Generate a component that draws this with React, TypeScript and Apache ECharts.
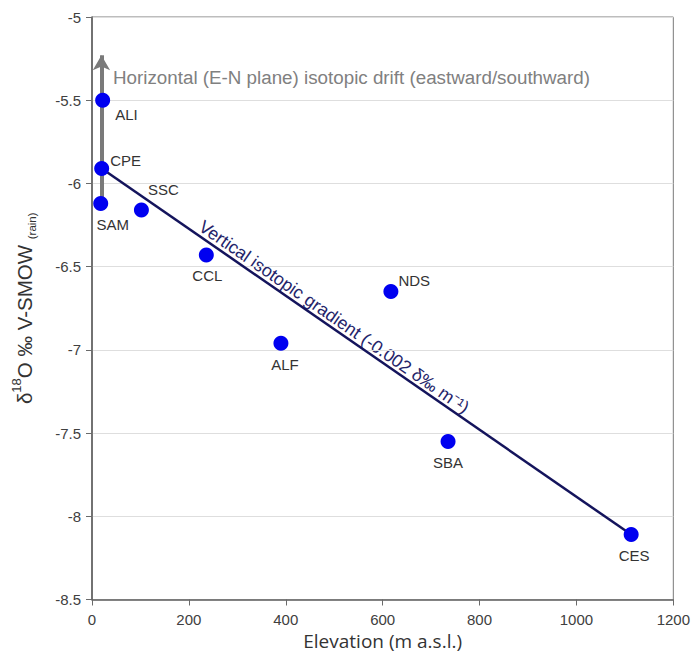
import { useEffect, useRef } from "react";
import * as echarts from "echarts";

// ---- data ----
const stations = ["ALI", "CPE", "SAM", "SSC", "CCL", "NDS", "ALF", "SBA", "CES"];
const elevation = [22, 20, 18, 102, 236, 617, 390, 735, 1113];
const d18O = [-5.5, -5.91, -6.12, -6.16, -6.43, -6.65, -6.96, -7.55, -8.11];

// regression (vertical gradient) line endpoints
const gradX = [20, 1113];
const gradY = [-5.91, -8.11];

// horizontal drift arrow
const driftX = 19.5;
const driftY = [-6.12, -5.23];

const xMin = 0, xMax = 1200, xStep = 200;
const yMin = -8.5, yMax = -5, yStep = 0.5;

// label placement (style only)
const labelPlace: Record<string, { position: string; offset: number[] }> = {
  ALI: { position: "right", offset: [0, 14] },
  CPE: { position: "right", offset: [-4, -8] },
  SAM: { position: "bottom", offset: [12, 1] },
  SSC: { position: "right", offset: [-6, -21] },
  CCL: { position: "bottom", offset: [1, 1] },
  NDS: { position: "right", offset: [-5, -11] },
  ALF: { position: "bottom", offset: [4, 1] },
  SBA: { position: "bottom", offset: [0, 1] },
  CES: { position: "bottom", offset: [3, 1] },
};

export default function App() {
  const ref = useRef<HTMLDivElement>(null);
  useEffect(() => {
    if (!ref.current) return;
    const chart = echarts.init(ref.current, undefined, { renderer: "svg" });
    const pts = stations.map((s, i) => ({
      name: s,
      value: [elevation[i], d18O[i]],
      label: {
        show: true,
        formatter: s,
        position: labelPlace[s].position as any,
        offset: labelPlace[s].offset,
        distance: 5,
        fontFamily: "Liberation Sans, Arial, sans-serif",
        fontSize: 15,
        color: "#333333",
      },
    }));
    chart.setOption({
      animation: false,
      grid: {
        left: 92,
        right: 19,
        top: 17,
        bottom: 61.5,
        show: true,
        borderColor: "#7a7a7a",
        borderWidth: 1,
        backgroundColor: "#ffffff",
      },
      xAxis: {
        type: "value",
        min: xMin,
        max: xMax,
        interval: xStep,
        name: "Elevation (m a.s.l.)",
        nameLocation: "middle",
        nameGap: 30,
        nameTextStyle: { fontFamily: "Open Sans, sans-serif", fontSize: 19, color: "#333333" },
        axisLine: { show: true, lineStyle: { color: "#5a5a5a", width: 1.5 } },
        axisTick: { show: true, inside: false, length: 6, lineStyle: { color: "#6a6a6a" } },
        axisLabel: {
          fontFamily: "Liberation Sans, Arial, sans-serif",
          fontSize: 15,
          color: "#404040",
          margin: 12,
          formatter: (v: number) => String(v),
        },
        splitLine: { show: false },
      },
      yAxis: {
        type: "value",
        min: yMin,
        max: yMax,
        interval: yStep,
        name: "{m|δ}{sup|18}{m|O ‰ V-SMOW }{sub|(rain)}",
        nameLocation: "middle",
        nameGap: 54,
        nameRotate: 90,
        nameTextStyle: {
          color: "#333333",
          rich: {
            m: { fontFamily: "Liberation Sans, Arial, sans-serif", fontSize: 20.5, lineHeight: 28, color: "#333333" },
            sup: { fontFamily: "Liberation Sans, Arial, sans-serif", fontSize: 13, lineHeight: 15, verticalAlign: "top", color: "#333333" },
            sub: { fontFamily: "Liberation Sans, Arial, sans-serif", fontSize: 11.5, lineHeight: 12, verticalAlign: "bottom", color: "#333333" },
          },
        },
        axisLine: { show: true, lineStyle: { color: "#5a5a5a", width: 1.5 } },
        axisTick: { show: true, inside: false, length: 6, lineStyle: { color: "#6a6a6a" } },
        axisLabel: { fontFamily: "Liberation Sans, Arial, sans-serif", fontSize: 15, color: "#404040", margin: 11 },
        splitLine: { show: true, lineStyle: { color: "#dedede", width: 1 } },
      },
      series: [
        {
          type: "line",
          data: gradX.map((x, i) => [x, gradY[i]]),
          showSymbol: false,
          symbol: "none",
          lineStyle: { color: "#14145c", width: 2.5 },
          silent: true,
          z: 2,
          markLine: {
            silent: true,
            symbol: ["none", "arrow"],
            symbolSize: [13, 15],
            label: { show: false },
            lineStyle: { color: "#7a7a7a", width: 4, type: "solid" },
            emphasis: { disabled: true },
            data: [[{ coord: [driftX, driftY[0]] }, { coord: [driftX, driftY[1]] }]],
          },
        },
        {
          type: "scatter",
          data: pts,
          symbol: "circle",
          symbolSize: 15,
          itemStyle: { color: "#0000f0", opacity: 1 },
          z: 5,
        },
      ],
      graphic: [
        {
          type: "text",
          left: 113,
          top: 67.5,
          silent: true,
          style: {
            text: "Horizontal (E-N plane) isotopic drift (eastward/southward)",
            fontFamily: "Liberation Sans, Arial, sans-serif",
            fontSize: 18.8,
            fill: "#808080",
          },
        },
        {
          type: "text",
          x: 334,
          y: 317,
          rotation: -0.607,
          silent: true,
          style: {
            text: "Vertical isotopic gradient (-0.002 δ‰ m⁻¹)",
            fontFamily: "Liberation Sans, Arial, sans-serif",
            fontSize: 17.8,
            fill: "#24246a",
            align: "center",
            verticalAlign: "middle",
          },
        },
      ],
    });
    return () => chart.dispose();
  }, []);
  return <div ref={ref} style={{ position: "absolute", left: 0, top: 0, width: 693, height: 661 }} />;
}
